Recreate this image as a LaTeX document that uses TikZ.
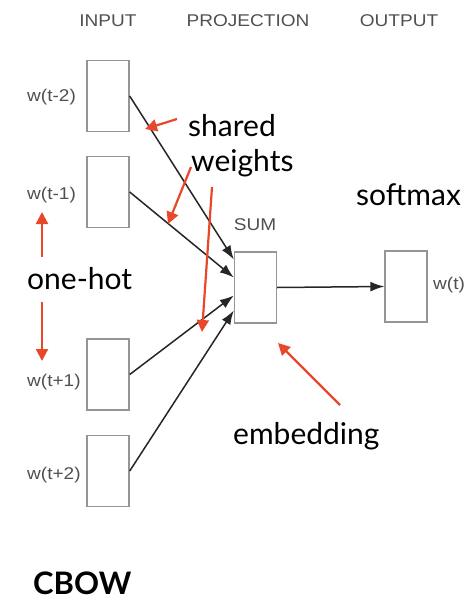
\documentclass[tikz,border=0pt]{standalone}
\usepackage{fontspec}
\setmainfont{Lato}
\newfontfamily\grayfont[FakeStretch=1.12]{Liberation Sans}
\usetikzlibrary{arrows.meta,calc}
\definecolor{redarrow}{HTML}{E8472A}
\definecolor{graytext}{HTML}{505050}
\definecolor{boxgray}{HTML}{959595}
\tikzset{
  unitbox/.style={draw=boxgray,line width=1.4pt,minimum width=42pt,minimum height=71pt,inner sep=0pt},
  graylabel/.style={font=\grayfont\fontsize{17}{19}\selectfont,text=graytext,inner sep=0pt},
  blacklabel/.style={font=\fontsize{30}{34}\selectfont,text=black,inner sep=0pt},
  conn/.style={draw=black!85,line width=1.5pt,-{Latex[length=14pt,width=10pt]}},
  pointer/.style={draw=redarrow,line width=2.2pt,-{Triangle[length=12pt,width=12pt]}}
}
\begin{document}
\begin{tikzpicture}[x=1pt,y=-1pt]
\useasboundingbox (0,0) rectangle (468,600);
% headers
\node[graylabel,anchor=base] (hin) at (108,26) {INPUT};
\node[graylabel,anchor=base] (hpr) at (248,26) {PROJECTION};
\node[graylabel,anchor=base] (hout) at (399,26) {OUTPUT};
% boxes
\node[unitbox] (i1) at (108,96) {};
\node[unitbox] (i2) at (108,192) {};
\node[unitbox] (i3) at (108,374.5) {};
\node[unitbox] (i4) at (108,471) {};
\node[unitbox] (s) at (255.5,287.5) {};
\node[unitbox] (o) at (406,286.5) {};
% gray labels
\node[graylabel,anchor=west] (l1) at (27,97) {w(t-2)};
\node[graylabel,anchor=west] (l2) at (27,195) {w(t-1)};
\node[graylabel,anchor=west] (l3) at (27,382) {w(t+1)};
\node[graylabel,anchor=west] (l4) at (27,475) {w(t+2)};
\node[graylabel,anchor=base] (lsum) at (255,230) {SUM};
\node[graylabel,anchor=west] (lwt) at (433,285) {w(t)};
% connectors
\draw[conn] (i1.east) -- ($(s.west)+(0,-28)$);
\draw[conn] (i2.east) -- ($(s.west)+(0,-10)$);
\draw[conn] (i3.east) -- ($(s.west)+(0,8)$);
\draw[conn] (i4.east) -- ($(s.west)+(0,23)$);
\draw[conn] (s.east) -- (o.west);
% black labels
\node[blacklabel,anchor=base west] (tsh) at (188,136) {shared};
\node[blacklabel,anchor=base west] (twe) at (191,171) {weights};
\node[blacklabel,anchor=base west] (tsm) at (356,205) {softmax};
\node[blacklabel,anchor=base west] (toh) at (27,289) {one-hot};
\node[blacklabel,anchor=base west] (tem) at (233,444) {embedding};
\node[font=\bfseries\fontsize{31}{34}\selectfont,anchor=base west,inner sep=0pt,text depth=0pt] (tcb) at (33,594) {CBOW};
% red pointers
\coordinate (p1s) at (177,119); \coordinate (p1e) at (145,129);
\coordinate (p2s) at (191,167); \coordinate (p2e) at (168,224);
\coordinate (p3s) at (212,187); \coordinate (p3e) at (202,332);
\coordinate (p4s) at (42,257);  \coordinate (p4e) at (42,212);
\coordinate (p5s) at (42,302);  \coordinate (p5e) at (42,361);
\coordinate (p6s) at (340,405); \coordinate (p6e) at (278,343);
\draw[pointer] (p1s) -- (p1e);
\draw[pointer] (p2s) -- (p2e);
\draw[pointer] (p3s) -- (p3e);
\draw[pointer] (p4s) -- (p4e);
\draw[pointer] (p5s) -- (p5e);
\draw[pointer] (p6s) -- (p6e);
\end{tikzpicture}
\end{document}
